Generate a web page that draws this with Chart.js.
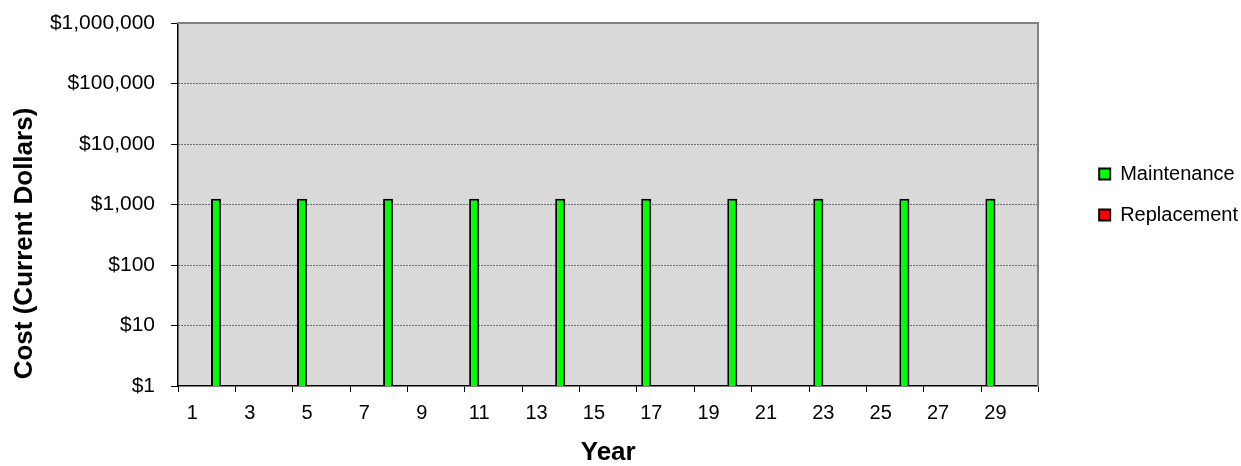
<!DOCTYPE html>
<html>
<head>
<meta charset="utf-8">
<script src="https://cdn.jsdelivr.net/npm/chart.js@4.4.1/dist/chart.umd.min.js"></script>
<style>
  html, body { margin: 0; padding: 0; background: #fff; }
  #wrap { width: 1241px; height: 466px; }
</style>
</head>
<body>
<div id="wrap"><canvas id="c" width="1241" height="466"></canvas></div>
<script>
// Year categories along the x axis
const years = ['1','2','3','4','5','6','7','8','9','10','11','12','13','14','15',
               '16','17','18','19','20','21','22','23','24','25','26','27','28','29','30'];

// Yearly costs in current dollars (null = no spending that year)
const maintenance = [null, 1250, null, null, 1250, null, null, 1250, null, null,
                     1250, null, null, 1250, null, null, 1250, null, null, 1250,
                     null, null, 1250, null, null, 1250, null, null, 1250, null];
const replacement = [null, null, null, null, null, null, null, null, null, null,
                     null, null, null, null, null, null, null, null, null, null,
                     null, null, null, null, null, null, null, null, null, null];

// Cost axis tick values (log scale, one per decade)
const costTicks = [1, 10, 100, 1000, 10000, 100000, 1000000];

const FONT = 'Arial, "Liberation Sans", Helvetica, sans-serif';
Chart.defaults.font.family = FONT;
Chart.defaults.color = '#000';

// Grey fill behind the plotting area
const plotBackground = {
  id: 'plotBackground',
  beforeDraw(chart) {
    const { ctx, chartArea: a } = chart;
    ctx.save();
    ctx.fillStyle = '#d9d9d9';
    ctx.fillRect(a.left, a.top, a.right - a.left, a.bottom - a.top);
    ctx.restore();
  }
};

// Vertical axis title, centred on the full canvas height
const costTitle = {
  id: 'costTitle',
  afterDraw(chart) {
    const ctx = chart.ctx;
    ctx.save();
    ctx.translate(25, 243.5);
    ctx.rotate(-Math.PI / 2);
    ctx.font = 'bold 26px ' + FONT;
    ctx.fillStyle = '#000';
    ctx.textAlign = 'center';
    ctx.textBaseline = 'middle';
    ctx.fillText('Cost (Current Dollars)', 0, 0);
    ctx.restore();
  }
};

// Frame-only axis: no ticks or labels, just a grey border line
const frameAxis = (position, size) => ({
  type: 'linear',
  position,
  display: true,
  grid: { display: false },
  ticks: { display: false },
  border: { display: true, color: '#808080', width: 2 },
  afterFit(s) { if (position === 'top') s.height = size; else s.width = size; }
});

new Chart(document.getElementById('c'), {
  type: 'bar',
  data: {
    labels: years,
    datasets: [
      { label: 'Maintenance', data: maintenance, backgroundColor: '#00ff00',
        borderColor: '#000', borderWidth: 2, borderSkipped: 'start',
        categoryPercentage: 0.7, barPercentage: 1 },
      { label: 'Replacement', data: replacement, backgroundColor: '#ff0000',
        borderColor: '#000', borderWidth: 2, borderSkipped: 'start',
        categoryPercentage: 0.7, barPercentage: 1 }
    ]
  },
  options: {
    responsive: false,
    animation: false,
    devicePixelRatio: 1,
    layout: { padding: { top: 23, right: -7, bottom: 0, left: 0 } },
    plugins: {
      legend: {
        position: 'right',
        align: 'start',
        title: { display: true, text: '', padding: { top: 0, bottom: 105.6 },
                 font: { size: 12, lineHeight: 1.2 } },
        labels: { boxWidth: 11, boxHeight: 11, padding: 21, color: '#000',
                  font: { size: 20 } }
      },
      tooltip: { enabled: false }
    },
    scales: {
      x: {
        grid: {
          offset: true,
          drawOnChartArea: false,
          drawTicks: true,
          tickLength: 6,
          tickWidth: 1,
          tickColor: c => (c.index === undefined || c.index % 2 === 0) ? '#000' : 'rgba(0,0,0,0)'
        },
        border: { color: '#000', width: 1.5 },
        ticks: {
          autoSkip: false,
          maxRotation: 0,
          padding: 9,
          font: { size: 20 },
          callback(v, i) { return i % 2 === 0 ? this.getLabelForValue(v) : ''; }
        },
        title: { display: true, text: 'Year', color: '#000',
                 font: { size: 26, weight: 'bold', lineHeight: 1 }, padding: 0 },
        afterFit(s) { s.height = 80; }
      },
      y: {
        type: 'logarithmic',
        min: 1,
        max: 1000000,
        afterBuildTicks(s) { s.ticks = costTicks.map(v => ({ value: v })); },
        grid: {
          color: c => (c.tick && (c.tick.value === 1 || c.tick.value === 1000000)) ? 'rgba(0,0,0,0)' : '#000',
          lineWidth: 1,
          tickLength: 7,
          tickColor: '#000',
          tickWidth: 1,
          tickBorderDash: []
        },
        // dash pattern here applies to the dotted grid lines
        border: { color: '#000', width: 1.5, dash: [1, 2] },
        ticks: {
          padding: 16,
          font: { size: 21 },
          callback: v => '$' + Number(v).toLocaleString('en-US')
        },
        afterFit(s) {
          s.width = 178;
          // the plot top/bottom come from the layout padding, not label overhang
          s.paddingTop = 0;
          s.paddingBottom = 0;
        }
      },
      frameTop: frameAxis('top', 0),
      frameRight: frameAxis('right', 39.7)
    }
  },
  plugins: [plotBackground, costTitle]
});
</script>
</body>
</html>
